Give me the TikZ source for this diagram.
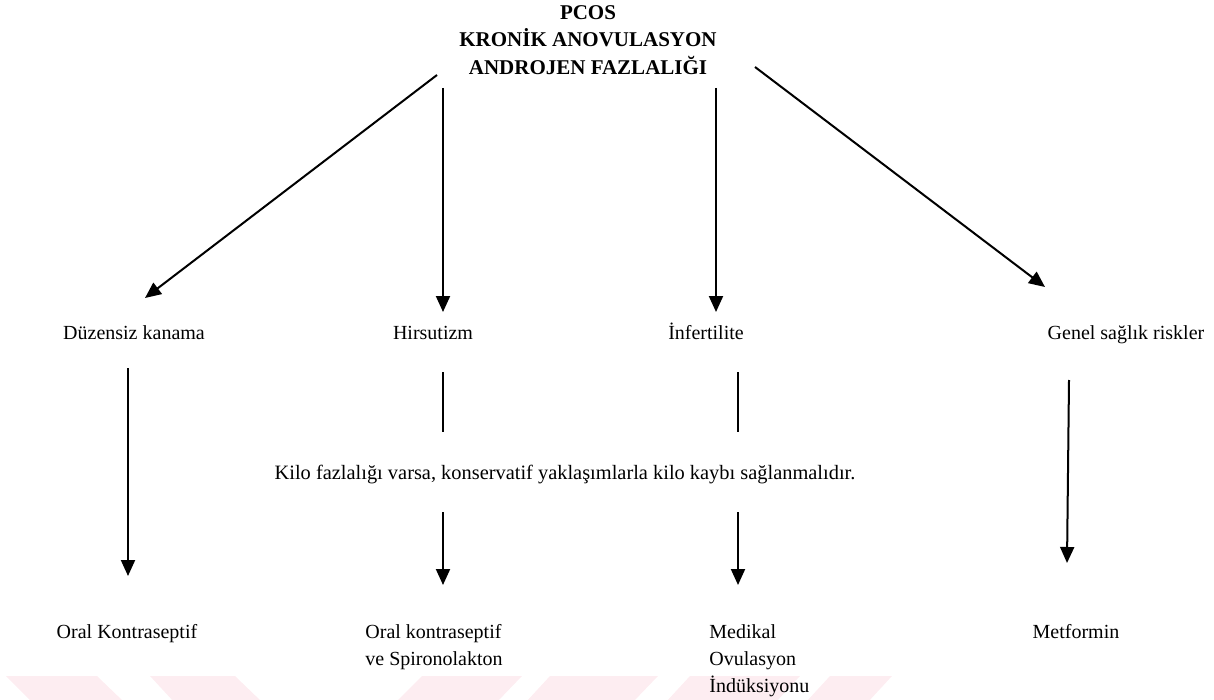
\documentclass[tikz,border=0pt]{standalone}
\usepackage{fontspec}
\setmainfont{Liberation Serif}
\usetikzlibrary{arrows.meta}
\definecolor{markpink}{RGB}{253,237,241}

\begin{document}
\begin{tikzpicture}[x=0.5pt, y=-0.5pt, font=\fontsize{10}{13.5}\selectfont,
  arr/.style={line width=1pt, -{Triangle[length=8pt,width=7pt]}},
  seg/.style={line width=1pt},
  txt/.style={inner sep=0pt, anchor=base},
  lbl/.style={inner sep=0pt, align=left}]
  \useasboundingbox (0,0) rectangle (1214,700);
  % faint bands along the bottom edge
  \fill[markpink] (6,676) -- (97,676) -- (124,702) -- (32,702) -- cycle;
  \fill[markpink] (150,676) -- (235,676) -- (262,702) -- (174,702) -- cycle;
  \fill[markpink] (422,676) -- (522,676) -- (497,702) -- (396,702) -- cycle;
  \fill[markpink] (550,676) -- (658,676) -- (633,702) -- (526,702) -- cycle;
  \fill[markpink] (690,676) -- (800,676) -- (776,702) -- (666,702) -- cycle;
  \fill[markpink] (830,676) -- (892,676) -- (868,702) -- (806,702) -- cycle;

  \node[font=\bfseries\fontsize{10.5}{13.75}\selectfont, align=center] (pcos) at (588,40)
    {PCOS\\KRONİK ANOVULASYON\\ANDROJEN FAZLALIĞI};

  \node[txt] (kanama) at (134,339) {Düzensiz kanama};
  \node[txt] (hirs) at (433,339) {Hirsutizm};
  \node[txt] (inf) at (706,339) {İnfertilite};
  \node[txt] (risk) at (1126,339) {Genel sağlık riskler};

  \node[txt, font=\fontsize{10.2}{13.5}\selectfont] (kilo) at (565,479)
    {Kilo fazlalığı varsa, konservatif yaklaşımlarla kilo kaybı sağlanmalıdır.};

  \node[txt] (ok) at (127,638) {Oral Kontraseptif};
  \node[lbl, anchor=north west] (spiro) at (365,624) {Oral kontraseptif\\ve Spironolakton};
  \node[lbl, anchor=north west] (ovu) at (709,624) {Medikal\\Ovulasyon\\İndüksiyonu};
  \node[txt] (met) at (1076,638) {Metformin};

  % first row of arrows
  \coordinate (a1) at (437,75);  \coordinate (a1e) at (145,298);
  \coordinate (a2) at (443,88);  \coordinate (a2e) at (443,312);
  \coordinate (a3) at (716,88);  \coordinate (a3e) at (716,312);
  \coordinate (a4) at (755,67);  \coordinate (a4e) at (1045,287);
  \draw[arr] (a1) -- (a1e);
  \draw[arr] (a2) -- (a2e);
  \draw[arr] (a3) -- (a3e);
  \draw[arr] (a4) -- (a4e);

  % second row
  \coordinate (b1) at (128,368);  \coordinate (b1e) at (128,576);
  \coordinate (b2) at (443,372);  \coordinate (b2m) at (443,432);
  \coordinate (b2n) at (443,512); \coordinate (b2e) at (443,585);
  \coordinate (b3) at (738,372);  \coordinate (b3m) at (738,432);
  \coordinate (b3n) at (738,512); \coordinate (b3e) at (738,585);
  \coordinate (b4) at (1069,380); \coordinate (b4e) at (1067,563);
  \draw[arr] (b1) -- (b1e);
  \draw[seg] (b2) -- (b2m);
  \draw[arr] (b2n) -- (b2e);
  \draw[seg] (b3) -- (b3m);
  \draw[arr] (b3n) -- (b3e);
  \draw[arr] (b4) -- (b4e);
\end{tikzpicture}
\end{document}
